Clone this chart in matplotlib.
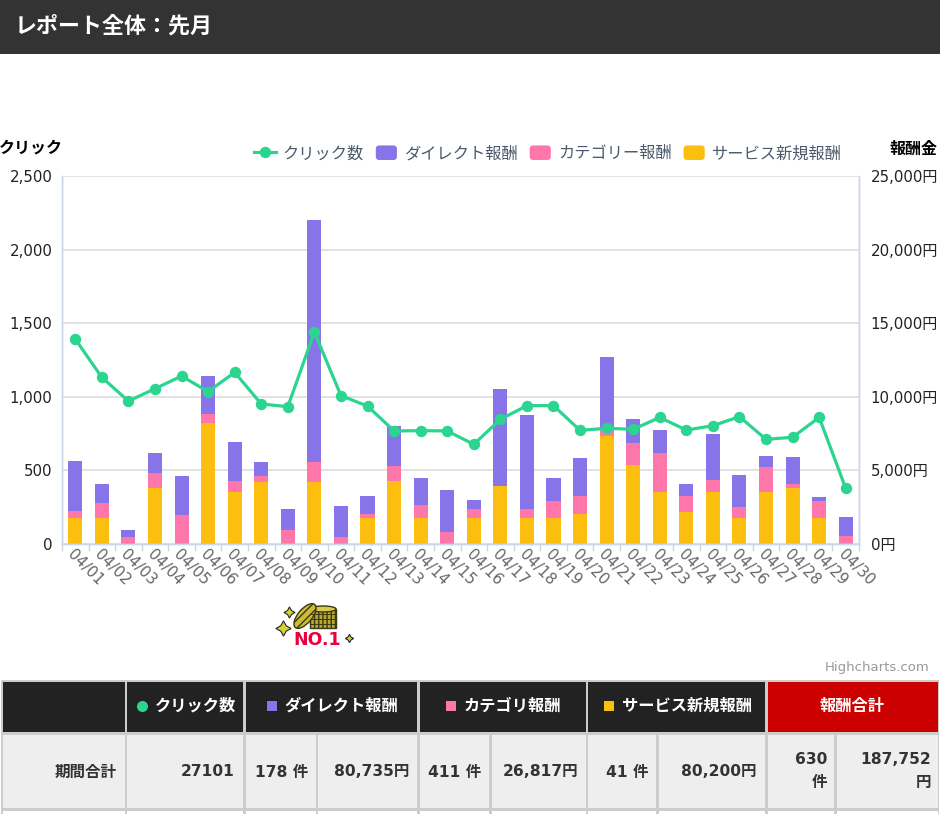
import matplotlib
matplotlib.use("Agg")
import matplotlib.pyplot as plt
from matplotlib.legend_handler import HandlerPatch
from matplotlib.patches import Rectangle, Ellipse, FancyBboxPatch
from matplotlib.ticker import FuncFormatter, MultipleLocator

plt.rcParams['font.family'] = ['DejaVu Sans', 'Noto Sans CJK JP']

# ---------------- data ---------------- #
days = [f"04/{d:02d}" for d in range(1, 31)]
clicks = [1392, 1132, 971, 1055, 1141, 1035, 1166, 951, 933, 1440,
          1008, 937, 768, 770, 768, 677, 847, 940, 940, 772,
          786, 779, 860, 774, 804, 865, 711, 725, 860, 378]
service = [1800, 1800, 0, 3800, 0, 8250, 3530, 4180, 0, 4180,
           0, 1800, 4270, 1800, 0, 1800, 3930, 1800, 1800, 2060,
           7320, 5400, 3530, 2150, 3530, 1800, 3530, 3800, 1800, 0]
category = [440, 980, 475, 1015, 1950, 550, 720, 450, 930, 1360,
            475, 260, 1020, 820, 810, 550, 0, 550, 1090, 1190,
            410, 1450, 2685, 1100, 830, 710, 1670, 290, 1090, 565]
direct = [3410, 1290, 455, 1385, 2680, 2600, 2700, 910, 1470, 16460,
          2105, 1190, 2760, 1830, 2890, 610, 6620, 6440, 1560, 2580,
          4970, 1670, 1555, 820, 3140, 2210, 810, 1830, 270, 1285]

series_names = ["クリック数", "ダイレクト報酬", "カテゴリー報酬", "サービス新規報酬"]
table_head = ["クリック数", "ダイレクト報酬", "カテゴリ報酬", "サービス新規報酬", "報酬合計"]
table_row = ["期間合計", "27101", "178 件", "80,735円", "411 件", "26,817円",
             "41 件", "80,200円", "630\n件", "187,752\n円"]

GREEN = "#2bd48f"
PURPLE = "#8674e8"
PINK = "#ff77aa"
YELLOW = "#fdbf0f"
W, H = 940, 814


class RoundHandle(HandlerPatch):
    # legend swatches have rounded corners in the original
    def create_artists(self, legend, orig, xd, yd, width, height, fontsize, trans):
        p = FancyBboxPatch((-xd + 1.5, -yd + 1.5), width - 3, height - 3,
                           boxstyle="round,pad=1.5,rounding_size=2.5",
                           fc=orig.get_facecolor(), lw=0, transform=trans)
        return [p]


fig = plt.figure(figsize=(W / 100, H / 100), dpi=100, facecolor="white")

# overlay in pixel coordinates for header, table and stray texts
bg = fig.add_axes([0, 0, 1, 1], zorder=0)
bg.set_xlim(0, W)
bg.set_ylim(H, 0)
bg.axis("off")

# ----------------------------------------------------- #
#                   Chart
# ----------------------------------------------------- #
rect = [62 / W, 1 - 544 / H, 797 / W, 368 / H]
ax_yen = fig.add_axes(rect, zorder=1)
ax_clk = fig.add_axes(rect, zorder=2)
ax_clk.patch.set_visible(False)

xs = list(range(30))
bottom_cat = service
bottom_dir = [s + c for s, c in zip(service, category)]
bar_w = 0.53
b_dir = ax_yen.bar(xs, direct, bar_w, bottom=bottom_dir, color=PURPLE)
b_cat = ax_yen.bar(xs, category, bar_w, bottom=bottom_cat, color=PINK)
b_srv = ax_yen.bar(xs, service, bar_w, color=YELLOW)

line, = ax_clk.plot(xs, clicks, color=GREEN, lw=2.3, marker="o", ms=8.2, mew=0)

ax_yen.set_ylim(0, 25000)
ax_clk.set_ylim(0, 2500)
for a in (ax_yen, ax_clk):
    a.set_xlim(-0.5, 29.5)
ax_yen.yaxis.set_major_locator(MultipleLocator(5000))
ax_clk.yaxis.set_major_locator(MultipleLocator(500))
ax_yen.yaxis.tick_right()
ax_yen.yaxis.set_major_formatter(FuncFormatter(lambda v, p: f"{int(v):,}円"))
ax_clk.yaxis.set_major_formatter(FuncFormatter(lambda v, p: f"{int(v):,}"))
ax_yen.tick_params(axis="y", length=0, pad=8.5, labelsize=10.8, labelcolor="#222222")
ax_clk.tick_params(axis="y", length=0, pad=7, labelsize=10.8, labelcolor="#222222")
ax_yen.yaxis.grid(True, color="#dddddd", lw=1.2)
ax_yen.set_axisbelow(True)

ax_yen.set_xticks([x - 0.5 for x in xs] + [29.5])
ax_yen.tick_params(axis="x", length=5, width=1, color="#ccd6eb", labelbottom=False)
ax_clk.set_xticks(xs)
ax_clk.set_xticklabels(days, rotation=-45, ha="left", va="top", rotation_mode="anchor",
                       fontsize=11, color="#666666")
ax_clk.tick_params(axis="x", length=0, pad=2)

for a in (ax_yen, ax_clk):
    for name, sp in a.spines.items():
        sp.set_color("#ccd6eb")
        sp.set_linewidth(1.0)
    a.spines["top"].set_visible(False)

leg = ax_clk.legend([line, b_dir[0], b_cat[0], b_srv[0]], series_names, ncols=4, frameon=False,
                    loc="lower right", bbox_to_anchor=(0.9787, 1.04), borderaxespad=0, borderpad=0,
                    fontsize=11.7, labelcolor="#4a5a6a", handlelength=1.3, handleheight=1.0,
                    handletextpad=0.45, columnspacing=0.72,
                    handler_map={Rectangle: RoundHandle()})

bg.text(-1, 148, "クリック", fontsize=11.5, fontweight="bold", color="#000000", va="center", ha="left")
bg.text(937, 149, "報酬金", fontsize=11.5, fontweight="bold", color="#000000", va="center", ha="right")
bg.text(929, 668, "Highcharts.com", fontsize=9.5, color="#999999", va="center", ha="right")

# ----------------------------------------------------- #
#                   Page header
# ----------------------------------------------------- #
bg.add_patch(Rectangle((0, 0), W, 54, color="#333333", lw=0))
bg.text(15, 26, "レポート全体：先月", fontsize=15.8, fontweight="bold", color="white", va="center")

# ----------------------------------------------------- #
#                   Coin badge
# ----------------------------------------------------- #
bg.add_patch(Rectangle((310, 609), 26, 19, fc="#b9a82c", ec="#3b3a10", lw=1, hatch="||||"))
for y in (614, 619, 624):
    bg.plot([310, 336], [y, y], color="#3b3a10", lw=0.7)
bg.add_patch(Ellipse((323, 609), 26, 6, fc="#d9c94a", ec="#3b3a10", lw=1))
bg.add_patch(Ellipse((305, 616), 14, 30, angle=40, fc="#cdbb3a", ec="#3b3a10", lw=1, hatch="////"))
for sx, sy, ss in [(289, 612, 8), (283, 628, 11), (349, 638, 6)]:
    bg.plot([sx], [sy], marker=(4, 1, 0), ms=ss, mfc="#d8d23a", mec="#222222", mew=0.8)
bg.text(317, 640, "NO.1", fontsize=12.5, fontweight="bold", color="#e8003d", ha="center", va="center")

# ----------------------------------------------------- #
#                   Table
# ----------------------------------------------------- #
bg.add_patch(Rectangle((1, 680), 938, 134, color="#cccccc", lw=0))
head_cells = [(3, 125), (127, 243), (246, 417), (420, 586), (588, 765)]
for x0, x1 in head_cells:
    bg.add_patch(Rectangle((x0, 682), x1 - x0, 50, color="#222222", lw=0))
bg.add_patch(Rectangle((768, 682), 170, 50, color="#cc0000", lw=0))

row_cells = [(3, 125), (127, 243), (246, 316), (318, 417), (420, 489), (492, 586),
             (588, 656), (659, 765), (768, 834), (837, 938)]
for (x0, x1), label in zip(row_cells, table_row):
    bg.add_patch(Rectangle((x0, 735), x1 - x0, 73, color="#eeeeee", lw=0))
    bg.add_patch(Rectangle((x0, 811), x1 - x0, 3, color="white", lw=0))
    if "\n" in label:
        top, low = label.split("\n")
        bg.text(x1 - 7, 759, top, fontsize=11.2, fontweight="bold", color="#333333", ha="right", va="center")
        bg.text(x1 - 7, 783, low, fontsize=11.2, fontweight="bold", color="#333333", ha="right", va="center")
    else:
        bg.text(x1 - 8, 772, label, fontsize=11.2, fontweight="bold", color="#333333", ha="right", va="center")

head_pos = [(155, 142, "o", GREEN), (284, 272, "s", PURPLE), (464, 451, "s", PINK), (622, 609, "s", YELLOW)]
for (tx, mx, mk, col), label in zip(head_pos, table_head):
    bg.plot([mx], [706], marker=mk, ms=7.5 if mk == "s" else 8, color=col, mew=0)
    bg.text(tx, 706, label, fontsize=11.7, fontweight="bold", color="white", ha="left", va="center")
bg.text(852, 706, table_head[4], fontsize=11.7, fontweight="bold", color="white", ha="center", va="center")

fig.savefig("out.png", dpi=100)
